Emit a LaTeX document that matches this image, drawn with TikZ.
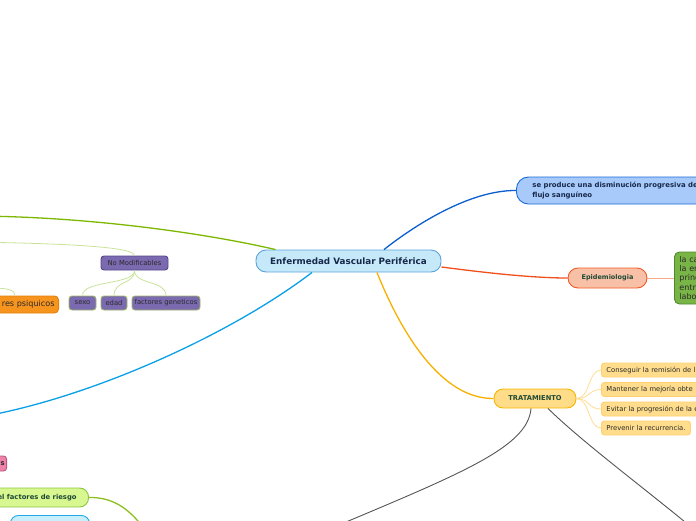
\documentclass[tikz,border=0pt]{standalone}
\usepackage{fontspec}
\setmainfont{DejaVu Sans}
\usetikzlibrary{calc}
\definecolor{cfill}{HTML}{C6E9FA}
\definecolor{cborder}{HTML}{5BA3D9}
\definecolor{ctext}{HTML}{16284A}
\definecolor{bfill}{HTML}{A8CAFA}
\definecolor{bborder}{HTML}{1B6AD6}
\definecolor{bline}{HTML}{0A5ECF}
\definecolor{rline}{HTML}{F0501E}
\definecolor{efill}{HTML}{F9C0A8}
\definecolor{eborder}{HTML}{F05A24}
\definecolor{eline}{HTML}{F5A88A}
\definecolor{gfill}{HTML}{79B446}
\definecolor{gborder}{HTML}{4E8A2A}
\definecolor{tfill}{HTML}{FFDC88}
\definecolor{tborder}{HTML}{F7B500}
\definecolor{tline}{HTML}{F7B000}
\definecolor{sfill}{HTML}{FFDD8C}
\definecolor{sborder}{HTML}{FFD070}
\definecolor{sline}{HTML}{FFDC94}
\definecolor{greyline}{HTML}{555555}
\definecolor{gline}{HTML}{7DB800}
\definecolor{lgline}{HTML}{C8E29A}
\definecolor{pfill}{HTML}{7B6AB0}
\definecolor{pborder}{HTML}{54478A}
\definecolor{pcborder}{HTML}{9DB66A}
\definecolor{psfill}{HTML}{F7941E}
\definecolor{psborder}{HTML}{E0820A}
\definecolor{cyline}{HTML}{0AA0E6}
\definecolor{pkfill}{HTML}{EE82A8}
\definecolor{pkborder}{HTML}{B8587A}
\definecolor{rfill}{HTML}{D9F790}
\definecolor{rborder}{HTML}{8CC63E}
\definecolor{rline2}{HTML}{8CBF1F}
\definecolor{lbfill}{HTML}{C8EEFC}
\definecolor{lbborder}{HTML}{22AAE8}
\definecolor{dgreen}{HTML}{1E4A36}
\definecolor{dtext}{HTML}{2A2A2A}
\tikzset{
  boxn/.style={inner sep=0pt, line width=0.9pt},
  mainline/.style={line width=1.3pt},
  thinline/.style={line width=0.8pt},
  subbox/.style={boxn, fill=sfill, draw=sborder, rounded corners=3pt, minimum height=14pt, inner xsep=5pt, anchor=west, font=\fontsize{6.8}{8}\selectfont, text=dtext},
  purplebox/.style={boxn, fill=pfill, rounded corners=3pt, minimum height=14pt, font=\fontsize{6.8}{8}\selectfont, text=dtext}
}
\begin{document}
\begin{tikzpicture}[x=1pt,y=-1pt]
\useasboundingbox (0,0) rectangle (696,520);
\clip (0,0) rectangle (696,520);
% nodes
\node[boxn, fill=cfill, draw=cborder, rounded corners=10pt, minimum width=185pt, minimum height=22pt, font=\fontsize{8.8}{10}\selectfont\bfseries, text=ctext] (c) at (348.5,261) {Enfermedad Vascular Periférica};
\node[boxn, fill=bfill, draw=bborder, rounded corners=12pt, minimum height=27pt, inner xsep=16pt, anchor=west, align=left, font=\fontsize{6.9}{10}\selectfont\bfseries, text=ctext] (b) at (516,190.5) {se produce una disminución progresiva de\\flujo sanguíneo};
\node[boxn, fill=efill, draw=eborder, rounded corners=10pt, minimum width=79pt, minimum height=20pt, font=\fontsize{6.5}{8}\selectfont\bfseries, text=dgreen] (e) at (607.5,278) {Epidemiologia};
\node[boxn, fill=gfill, draw=gborder, rounded corners=5pt, minimum height=52pt, inner xsep=5pt, anchor=west, text width=50pt, align=left, font=\fontsize{8}{9.3}\selectfont, text=dtext] (g) at (674,278) {la ca\\la en\\princ\\entre\\labor};
\node[boxn, fill=tfill, draw=tborder, rounded corners=9pt, minimum width=82pt, minimum height=19pt, font=\fontsize{6.7}{8}\selectfont\bfseries, text=dgreen] (t) at (535,398.5) {TRATAMIENTO};
\node[subbox, text width=110pt, align=left] (s1) at (601,370) {Conseguir la remisión de l};
\node[subbox, text width=110pt, align=left] (s2) at (601,389.5) {Mantener la mejoría obte};
\node[subbox, text width=110pt, align=left] (s3) at (601,409) {Evitar la progresión de la en};
\node[subbox] (s4) at (601,428) {Prevenir la recurrencia.};
\node[purplebox, draw=pborder, minimum width=67pt] (nm) at (134.5,263) {No Modificables};
\node[purplebox, draw=pcborder, minimum width=27pt] (sx) at (82.5,303) {sexo};
\node[purplebox, draw=pcborder, minimum width=26pt] (ed) at (114,303) {edad};
\node[purplebox, draw=pcborder, minimum width=68pt] (fg) at (166,303) {factores geneticos};
\node[boxn, fill=psfill, draw=psborder, rounded corners=4pt, minimum height=17pt, inner xsep=4pt, anchor=east, font=\fontsize{8.1}{9}\selectfont, text=dtext] (ps) at (59,304.5) {\hspace*{12pt}res psiquicos};
\node[boxn, fill=pkfill, draw=pkborder, rounded corners=3pt, minimum height=15pt, inner xsep=2pt, anchor=east, font=\fontsize{6.8}{8}\selectfont\bfseries, text=dtext] (pk) at (7,463.5) {\hspace*{20pt}s};
\node[boxn, fill=rfill, draw=rborder, rounded corners=9pt, minimum height=19pt, inner xsep=12pt, anchor=east, font=\fontsize{6.8}{8}\selectfont\bfseries, text=dgreen] (r) at (89,497.5) {el factores de riesgo};
\node[boxn, fill=lbfill, draw=lbborder, rounded corners=8pt, minimum width=79pt, minimum height=20pt, anchor=north west] (lb) at (10,515) {};
% free ends
\coordinate (g1) at (346,522);
\coordinate (g2) at (685,522);
\coordinate (lg) at (-30,216);
\coordinate (lg2) at (-30,242);
\coordinate (psend) at (-10,288);
\coordinate (cy) at (-20,417);
\coordinate (rc) at (142,526);
% connectors
\draw[bline, mainline] ([xshift=35.5pt]c.north) .. controls (415,225) and (470,190) .. (b.west);
\draw[rline, mainline] ([yshift=-6pt]c.east) .. controls (480,272) and (530,278) .. (e.west);
\draw[eline, thinline] (e.east) -- (g.west);
\draw[tline, mainline] ([xshift=28.5pt]c.south) .. controls (400,330) and (440,399) .. (t.west);
\draw[sline, thinline] (t.east) .. controls (590,399) and (588,370) .. (s1.west);
\draw[sline, thinline] (t.east) .. controls (590,399) and (588,389.5) .. (s2.west);
\draw[sline, thinline] (t.east) .. controls (590,399) and (588,409) .. (s3.west);
\draw[sline, thinline] (t.east) .. controls (590,399) and (588,428) .. (s4.west);
\draw[greyline, line width=0.9pt] ([xshift=-4pt]t.south) .. controls (528,445) and (470,470) .. (g1);
\draw[greyline, line width=0.9pt] ([xshift=13pt]t.south) .. controls (580,440) and (640,485) .. (g2);
\draw[gline, mainline] ([xshift=-73pt]c.north) .. controls (200,232) and (80,216) .. (lg);
\draw[lgline, thinline] (nm.north) .. controls (134,250) and (110,244) .. (lg2);
\draw[lgline, thinline] (nm.south) .. controls (134.5,285) and (82.5,280) .. (sx.north);
\draw[lgline, thinline] (nm.south) .. controls (134.5,285) and (114,280) .. (ed.north);
\draw[lgline, thinline] (nm.south) .. controls (134.5,285) and (166,280) .. (fg.north);
\draw[lgline, thinline] ([xshift=-44pt]ps.north east) .. controls (15,290) and (8,288) .. (psend);
\draw[cyline, mainline] ([xshift=-36.5pt]c.south) .. controls (230,335) and (90,398) .. (cy);
\draw[rline2, mainline] (r.east) .. controls (112,497) and (128,508) .. (rc);
\end{tikzpicture}
\end{document}
